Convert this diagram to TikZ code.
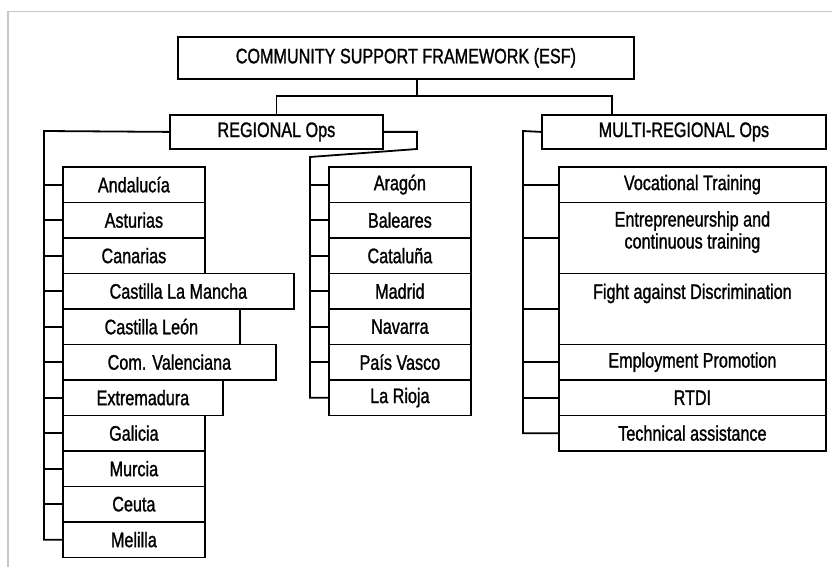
\documentclass[tikz,border=0pt]{standalone}
\usepackage{fontspec}
\setmainfont{Liberation Sans}[FakeStretch=0.77, FakeBold=1.2]
\begin{document}
\begin{tikzpicture}[%
    x=1pt, y=-1pt,
    writing/.style={%
      font=\fontsize{21}{22}\selectfont, % narrow sans text
      align=center      % centred lines
    },
    box/.style={%
      rectangle,        % plain box
      draw=black,       % black edge
      line width=1.8pt, %              fairly heavy
      inner sep=0pt,    % size set by hand
      anchor=north west,% placed by its corner
      writing           % writing style above
    },
    row/.style={%
      box,
      minimum width=142pt,  % default column width
      minimum height=35.5pt % one row
    },
    link/.style={%
      line width=1.8pt, % same as the boxes
      line join=miter
    },
    frame/.style={%
      line width=1.5pt,
      draw=black!22     % light grey border
    }
]
    \useasboundingbox (0,0) rectangle (832,567);
    \draw[frame] (8,567) -- (8,11.5) -- (832,11.5);

    % top levels
    \node at (177,36)  [box, minimum width=456pt, minimum height=42pt] (csf) {COMMUNITY SUPPORT FRAMEWORK (ESF)};
    \node at (169,114) [box, minimum width=213pt, minimum height=34pt] (regional) {REGIONAL Ops};
    \node at (541,114) [box, minimum width=284pt, minimum height=34pt] (multi) {MULTI-REGIONAL Ops};

    % regions, first column
    \node at (62,166)   [row] (andalucia) {Andalucía};
    \node at (62,201.5) [row] (asturias)  {Asturias};
    \node at (62,237)   [row] (canarias)  {Canarias};
    \node at (62,272.5) [row, minimum width=231pt] (mancha)   {Castilla La Mancha};
    \node at (62,308)   [row, minimum width=177pt] (leon)     {Castilla León};
    \node at (62,343.5) [row, minimum width=213pt] (valencia) {Com. Valenciana};
    \node at (62,379)   [row, minimum width=160pt] (extremadura) {Extremadura};
    \node at (62,414.5) [row] (galicia)   {Galicia};
    \node at (62,450)   [row] (murcia)    {Murcia};
    \node at (62,485.5) [row] (ceuta)     {Ceuta};
    \node at (62,521)   [row] (melilla)   {Melilla};

    % regions, second column
    \node at (328,166)   [row] (aragon)    {Aragón};
    \node at (328,201.5) [row] (baleares)  {Baleares};
    \node at (328,237)   [row] (cataluna)  {Cataluña};
    \node at (328,272.5) [row] (madrid)    {Madrid};
    \node at (328,308)   [row] (navarra)   {Navarra};
    \node at (328,343.5) [row] (vasco)     {País Vasco};
    \node at (328,379)   [row] (larioja)   {La Rioja};

    % multi-regional programmes
    \node at (558,166)   [row, minimum width=267pt] (vocational) {Vocational Training};
    \node at (558,201.5) [row, minimum width=267pt, minimum height=71pt] (entrepreneur) {Entrepreneurship and\\continuous training\\[-6pt]};
    \node at (558,272.5) [row, minimum width=267pt, minimum height=71pt,
                          text height=15pt, text depth=35pt] (discrimination) {Fight against Discrimination};
    \node at (558,343.5) [row, minimum width=267pt] (employment) {Employment Promotion};
    \node at (558,379)   [row, minimum width=267pt] (rtdi)       {RTDI};
    \node at (558,414.5) [row, minimum width=267pt] (techassist) {Technical assistance};

    % bends of the connectors
    \coordinate (split)  at (417,96);
    \coordinate (mdrop)  at (612,96);
    \coordinate (ltrunk) at (44,131);
    \coordinate (rbend)  at (417,149);
    \coordinate (mtrunk) at (310,157);
    \coordinate (rtrunk) at (523,131);

    % connections
    \draw[link] (csf.south -| split) -- (split);
    \draw[link] (regional.north) |- (mdrop) -- (multi.north -| mdrop);
    \draw[link] (regional.west) -- (ltrunk) |- (melilla.west);
    \draw[link] (regional.east) -| (rbend) -- (mtrunk) |- (larioja.west);
    \draw[link] (multi.west) -- (rtrunk) |- (techassist.west);

    % first column ticks
    \draw[link] (ltrunk |- andalucia.west) -- (andalucia.west);
    \draw[link] (ltrunk |- asturias.west) -- (asturias.west);
    \draw[link] (ltrunk |- canarias.west) -- (canarias.west);
    \draw[link] (ltrunk |- mancha.west) -- (mancha.west);
    \draw[link] (ltrunk |- leon.west) -- (leon.west);
    \draw[link] (ltrunk |- valencia.west) -- (valencia.west);
    \draw[link] (ltrunk |- extremadura.west) -- (extremadura.west);
    \draw[link] (ltrunk |- galicia.west) -- (galicia.west);
    \draw[link] (ltrunk |- murcia.west) -- (murcia.west);
    \draw[link] (ltrunk |- ceuta.west) -- (ceuta.west);

    % second column ticks
    \draw[link] (mtrunk |- aragon.west) -- (aragon.west);
    \draw[link] (mtrunk |- baleares.west) -- (baleares.west);
    \draw[link] (mtrunk |- cataluna.west) -- (cataluna.west);
    \draw[link] (mtrunk |- madrid.west) -- (madrid.west);
    \draw[link] (mtrunk |- navarra.west) -- (navarra.west);
    \draw[link] (mtrunk |- vasco.west) -- (vasco.west);

    % multi-regional ticks
    \draw[link] (rtrunk |- vocational.west) -- (vocational.west);
    \draw[link] (rtrunk |- entrepreneur.west) -- (entrepreneur.west);
    \draw[link] (rtrunk |- discrimination.west) -- (discrimination.west);
    \draw[link] (rtrunk |- employment.west) -- (employment.west);
    \draw[link] (rtrunk |- rtdi.west) -- (rtdi.west);

\end{tikzpicture}
\end{document}
